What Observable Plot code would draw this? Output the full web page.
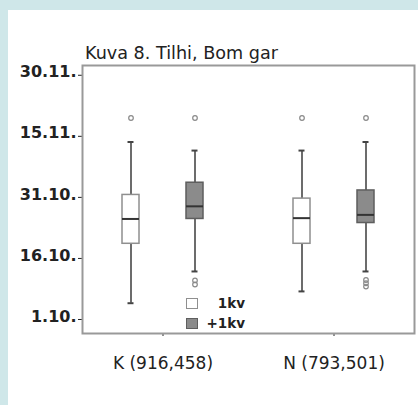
<!DOCTYPE html>
<html>
<head>
<meta charset="utf-8">
<script src="https://cdn.jsdelivr.net/npm/d3@7"></script>
<script src="https://cdn.jsdelivr.net/npm/@observablehq/plot@0.6"></script>
<style>
  html, body { margin: 0; padding: 0; }
  body {
    width: 418px; height: 405px; position: relative; overflow: hidden;
    background: #cfe7e9; font-family: "DejaVu Sans", sans-serif; color: #222;
  }
  #panel { position: absolute; left: 8px; top: 10px; width: 410px; height: 395px; background: #fff; }
  #title { position: absolute; left: 85px; top: 43px; font-size: 17.6px; line-height: 20px; white-space: nowrap; }
  #chart { position: absolute; left: 8px; top: 60px; }
  #chart svg g[aria-label="y-axis"] line,
  #chart svg g[aria-label="x-axis"] line { stroke: #777; }
  #legend {
    position: absolute; left: 186px; top: 293px; display: grid;
    grid-template-columns: 13px 46px; grid-auto-rows: 20px; align-items: center;
    font-size: 13.5px; font-weight: bold;
  }
  #legend .sw { width: 12px; height: 11px; box-sizing: border-box; }
  #legend .lab { text-align: right; }
</style>
</head>
<body>
<div id="panel"></div>
<div id="title">Kuva 8. Tilhi, Bom gar</div>
<div id="chart"></div>
<div id="legend"></div>
<script>
// Groups on the x axis and their labels (sample sizes per series)
const groups = ["K", "N"];
const groupLabels = ["K (916,458)", "N (793,501)"];

// Two age classes drawn side by side within each group
const series = ["1kv", "+1kv"];
const seriesFill = ["#ffffff", "#8b8b8b"];
const seriesStroke = ["#8f8f8f", "#5e5e5e"];

// Y axis: days counted from 1 October
const tickDays = [0, 15, 30, 45, 60];
const tickLabels = ["1.10.", "16.10.", "31.10.", "15.11.", "30.11."];

// Box statistics (days from 1.10.), one entry per box
const boxGroup    = ["K", "K", "N", "N"];
const boxSeries   = ["1kv", "+1kv", "1kv", "+1kv"];
const whiskerLow  = [4.0, 11.8, 6.9, 11.8];
const quartile1   = [18.6, 24.7, 18.6, 23.7];
const median      = [24.7, 27.8, 24.9, 25.7];
const quartile3   = [30.6, 33.6, 29.7, 31.7];
const whiskerHigh = [43.6, 41.5, 41.5, 43.6];

// Outliers (days from 1.10.)
const outlierGroup  = ["K", "K", "K", "K", "N", "N", "N", "N", "N"];
const outlierSeries = ["1kv", "+1kv", "+1kv", "+1kv", "1kv", "+1kv", "+1kv", "+1kv", "+1kv"];
const outlierDay    = [49.5, 49.5, 9.6, 8.6, 49.5, 49.5, 9.7, 8.9, 8.1];

const boxes = boxGroup.map((g, i) => ({
  group: g, series: boxSeries[i], lo: whiskerLow[i], q1: quartile1[i],
  med: median[i], q3: quartile3[i], hi: whiskerHigh[i]
}));
const outliers = outlierGroup.map((g, i) => ({group: g, series: outlierSeries[i], day: outlierDay[i]}));
const yTicks = tickDays.map((d, i) => ({day: d, label: tickLabels[i]}));

// Horizontal offset of each series from its group centre
const seriesOffset = [-32, 32];

const boxMarks = series.flatMap((s, k) => {
  const rows = boxes.filter(d => d.series === s);
  const pts = outliers.filter(d => d.series === s);
  const dx = seriesOffset[k];
  return [
    Plot.ruleX(rows, {x: "group", y1: "lo", y2: "hi", dx, stroke: "#6c6c6c", strokeWidth: 2}),
    Plot.tickY(rows, {x: "group", y: "lo", dx, insetLeft: 5.5, insetRight: 5.5, stroke: "#444", strokeWidth: 2}),
    Plot.tickY(rows, {x: "group", y: "hi", dx, insetLeft: 5.5, insetRight: 5.5, stroke: "#444", strokeWidth: 2}),
    Plot.barY(rows, {x: "group", y1: "q1", y2: "q3", dx, fill: seriesFill[k], stroke: seriesStroke[k], strokeWidth: 1.5}),
    Plot.tickY(rows, {x: "group", y: "med", dx, stroke: "#333", strokeWidth: 2}),
    Plot.dot(pts, {x: "group", y: "day", dx, r: 2.3, stroke: "#8a8a8a", strokeWidth: 1.2, fill: "none"})
  ];
});

const chart = Plot.plot({
  width: 410,
  height: 345,
  marginLeft: 74,
  marginRight: 4,
  marginTop: 5,
  marginBottom: 72,
  style: {background: "transparent", fontFamily: "DejaVu Sans, sans-serif", fontSize: "17px", color: "#222"},
  x: {
    type: "band", domain: groups, paddingInner: 0.898, paddingOuter: 0.417,
    tickSize: 3, tickPadding: 20, label: null,
    tickFormat: d => groupLabels[groups.indexOf(d)]
  },
  y: {
    domain: [-3.44, 62.4], ticks: tickDays, tickSize: 4, tickPadding: 2,
    tickFormat: () => "", label: null
  },
  marks: [
    Plot.frame({stroke: "#999", strokeWidth: 2}),
    // Y tick labels sit just above their tick marks
    Plot.text(yTicks, {
      y: "day", text: "label", frameAnchor: "left", textAnchor: "end",
      dx: -6, dy: -3, fontSize: 16, fontWeight: "bold", fill: "#222"
    }),
    ...boxMarks
  ]
});
document.getElementById("chart").appendChild(chart);

// Legend for the two series
const legend = document.getElementById("legend");
series.forEach((s, k) => {
  const sw = document.createElement("div");
  sw.className = "sw";
  sw.style.background = seriesFill[k];
  sw.style.border = `1.5px solid ${seriesStroke[k]}`;
  const lab = document.createElement("div");
  lab.className = "lab";
  lab.textContent = s;
  legend.append(sw, lab);
});
</script>
</body>
</html>
